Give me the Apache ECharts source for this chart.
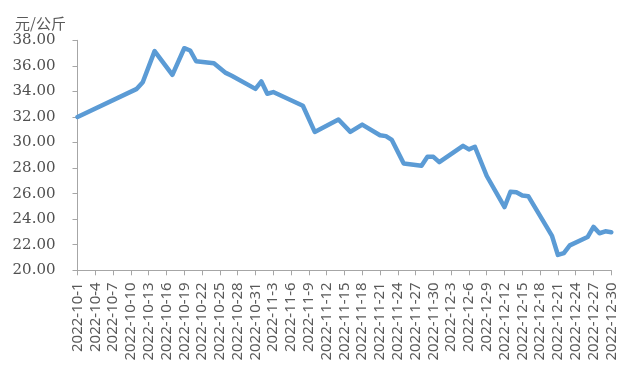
<!DOCTYPE html>
<html>
<head>
<meta charset="utf-8">
<script src="https://cdn.jsdelivr.net/npm/echarts@6/dist/echarts.min.js"></script>
<style>
html,body{margin:0;padding:0;background:#fff;}
#chart{width:633px;height:379px;}
</style>
</head>
<body>
<div id="chart"></div>
<script>
// Category axis: every day from 2022-10-1 to 2022-12-30
var months = [10, 11, 12];
var monthDays = [31, 30, 30];
var categories = [];
for (var m = 0; m < months.length; m++) {
  for (var d = 1; d <= monthDays[m]; d++) categories.push('2022-' + months[m] + '-' + d);
}

var obsDates = [
  '2022-10-1','2022-10-11','2022-10-12','2022-10-14','2022-10-17','2022-10-19','2022-10-20','2022-10-21',
  '2022-10-24','2022-10-26','2022-10-27','2022-10-31','2022-11-1','2022-11-2','2022-11-3','2022-11-8',
  '2022-11-10','2022-11-14','2022-11-16','2022-11-18','2022-11-21','2022-11-22','2022-11-23','2022-11-25',
  '2022-11-28','2022-11-29','2022-11-30','2022-12-1','2022-12-5','2022-12-6','2022-12-7','2022-12-9',
  '2022-12-12','2022-12-13','2022-12-14','2022-12-15','2022-12-16','2022-12-19','2022-12-20','2022-12-21',
  '2022-12-22','2022-12-23','2022-12-26','2022-12-27','2022-12-28','2022-12-29','2022-12-30'
];
var prices = [
  32.00, 34.20, 34.72, 37.15, 35.30, 37.38, 37.20, 36.36,
  36.20, 35.45, 35.22, 34.20, 34.78, 33.82, 33.95, 32.88,
  30.83, 31.80, 30.83, 31.40, 30.57, 30.50, 30.20, 28.35,
  28.18, 28.88, 28.88, 28.46, 29.74, 29.46, 29.67, 27.38,
  24.95, 26.15, 26.10, 25.85, 25.80, 23.48, 22.69, 21.20,
  21.35, 21.95, 22.60, 23.40, 22.90, 23.05, 22.98
];

var yMin = 20, yMax = 38, yStep = 2;
var unitLabel = '元/公斤';

var seriesData = obsDates.map(function (dt, i) { return [dt, prices[i]]; });

var chart = echarts.init(document.getElementById('chart'), null, {renderer: 'canvas'});
chart.setOption({
  animation: false,
  backgroundColor: '#ffffff',
  title: {
    text: unitLabel,
    left: 10,
    top: 11,
    textStyle: {fontFamily: 'Noto Sans CJK SC', fontSize: 15, fontWeight: 'normal', color: '#595959'}
  },
  grid: {left: 77.5, right: 21.7, top: 40.3, bottom: 108.7, containLabel: false},
  xAxis: {
    type: 'category',
    data: categories,
    boundaryGap: false,
    axisLine: {show: true, lineStyle: {color: '#A6A6A6', width: 1}},
    axisTick: {show: true, interval: 2, length: 5, lineStyle: {color: '#A6A6A6'}},
    axisLabel: {
      interval: 2,
      rotate: 90,
      margin: 12,
      fontFamily: 'Noto Sans',
      fontSize: 15,
      color: '#595959'
    },
    splitLine: {show: false}
  },
  yAxis: {
    type: 'value',
    min: yMin,
    max: yMax,
    interval: yStep,
    axisLine: {show: true, lineStyle: {color: '#A6A6A6', width: 1}},
    axisTick: {show: true, length: 5, lineStyle: {color: '#A6A6A6'}},
    axisLabel: {
      margin: 22,
      fontFamily: 'DejaVu Serif',
      fontSize: 15,
      color: '#505050',
      formatter: function (v) { return v.toFixed(2); }
    },
    splitLine: {show: false}
  },
  series: [{
    type: 'line',
    data: seriesData,
    showSymbol: false,
    symbol: 'none',
    smooth: false,
    lineStyle: {color: '#5B9BD5', width: 4.5, join: 'round', cap: 'round'}
  }]
});
</script>
</body>
</html>
